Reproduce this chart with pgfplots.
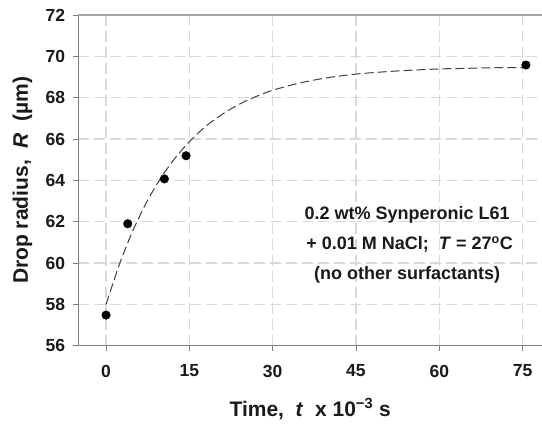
\documentclass[border=0pt]{standalone}
\usepackage{fontspec}
\setmainfont{Liberation Sans}
\usepackage{pgfplots}
\pgfplotsset{compat=1.18}
\definecolor{txt}{HTML}{1A1A1A}
\definecolor{axgray}{HTML}{7F7F7F}
\definecolor{topgray}{HTML}{A6A6A6}
\definecolor{gridgray}{HTML}{D9D9D9}
\definecolor{fitgray}{HTML}{404040}

% measured drop radius
\pgfplotstableread{
t     R
0     57.48
3.9   61.90
10.5  64.07
14.4  65.19
75.6  69.58
}\measured

% dashed fit curve
\pgfplotstableread{
t     R
0     58.00
2.5   60.01
5     61.67
7.5   63.04
10    64.17
12.5  65.10
15    65.87
17.5  66.51
20    67.03
22.5  67.46
25    67.82
27.5  68.11
30    68.36
35    68.72
40    68.97
45    69.14
50    69.25
55    69.33
60    69.39
65    69.42
70    69.45
75    69.46
}\fitcurve

\begin{document}
\begin{tikzpicture}
\useasboundingbox (-78.3pt,-78.3pt) rectangle (463.7pt,345.7pt);
\begin{axis}[
  at={(0,0)}, anchor=south west,
  scale only axis,
  width=463.7pt, height=330.7pt,
  xmin=-5, xmax=78.5,
  ymin=56, ymax=72,
  xtick={0,15,30,45,60,75},
  ytick={56,58,...,72},
  axis x line*=bottom, axis y line*=left,
  axis line style={axgray, line width=1.1pt, -},
  tick style={axgray, line width=0.8pt},
  tick align=outside,
  major tick length=5pt,
  grid=major,
  major grid style={gridgray, line width=1.2pt, dash pattern=on 11pt off 5pt},
  /pgf/number format/assume math mode=true,
  ticklabel style={font=\bfseries\fontsize{17.5}{20}\selectfont, text=txt},
  yticklabel style={anchor=east, inner sep=0pt, xshift=-8pt},
  xticklabel style={anchor=north, inner sep=0pt, yshift=-14pt},
  xlabel={Time,\ \ \textit{t}\ \ x 10\textsuperscript{−3} s},
  ylabel={Drop radius,\ \ \textit{R}\ \ (µm)},
  label style={font=\bfseries\fontsize{21}{24}\selectfont, text=txt},
  xlabel style={at={(axis description cs:0.5,-0.2126)}, anchor=base},
  ylabel style={at={(axis description cs:-0.1085,0.5)}, anchor=base},
  clip=false,
]
\draw[topgray, line width=1.1pt] (rel axis cs:0,1) -- (rel axis cs:1,1);
\addplot[fitgray, line width=1pt, dash pattern=on 9pt off 4pt, smooth]
  table[x=t, y=R] {\fitcurve};
\addplot[only marks, mark=*, mark size=4.3pt, mark options={fill=black, draw=black}]
  table[x=t, y=R] {\measured};
\node[align=center, text=txt, font=\bfseries\fontsize{18}{30}\selectfont]
  at (axis cs:54.2,60.87)
  {0.2 wt\% Synperonic L61\\
   \ + 0.01 M NaCl;\ \ \textit{T} = 27\textsuperscript{o}C\\
   (no other surfactants)};
\end{axis}
\end{tikzpicture}
\end{document}
